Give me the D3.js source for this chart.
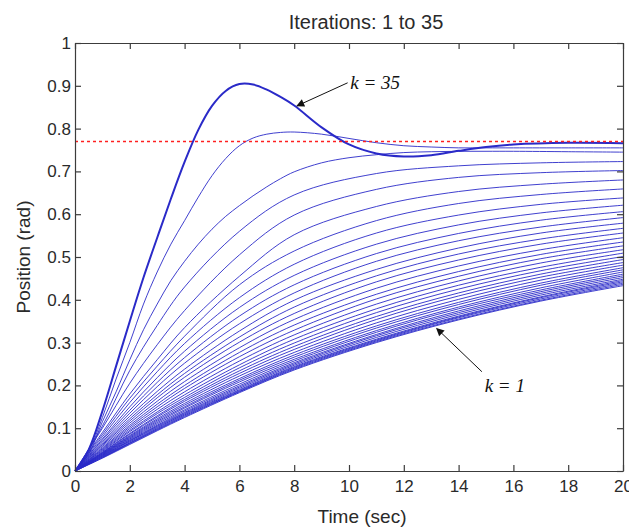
<!DOCTYPE html>
<html>
<head>
<meta charset="utf-8">
<script src="https://cdn.jsdelivr.net/npm/d3@7/dist/d3.min.js"></script>
<style>
  body { margin: 0; background: #fff; }
  .axis text { font-family: "Liberation Sans", Arial, sans-serif; font-size: 17px; fill: #2a2a2a; }
  .axis path, .axis line { stroke: #3c3c3c; stroke-width: 1.2; }
</style>
</head>
<body>
<script>
// tick values / labels
var xTicks = [0, 2, 4, 6, 8, 10, 12, 14, 16, 18, 20];
var yTicks = [0, 0.1, 0.2, 0.3, 0.4, 0.5, 0.6, 0.7, 0.8, 0.9, 1];
var yTickLabels = ["0", "0.1", "0.2", "0.3", "0.4", "0.5", "0.6", "0.7", "0.8", "0.9", "1"];

// sample times (sec)
var timeCoarse = [0, 1, 2, 3, 4, 6, 8, 11, 14, 17, 20];
var timeFine = [0, 0.5, 1, 1.5, 2, 2.5, 3, 3.5, 4, 4.5, 5, 5.5, 6, 6.5, 7, 7.5, 8, 9, 10, 11, 12, 13, 14, 15, 16, 18, 20];

// position (rad), iterations 1..32, on timeCoarse
var positionsLow = [
  [0, .030, .062, .094, .125, .183, .236, .300, .353, .397, .433],
  [0, .031, .064, .096, .127, .185, .238, .302, .355, .399, .436],
  [0, .032, .065, .097, .129, .186, .240, .304, .358, .402, .439],
  [0, .033, .066, .099, .131, .188, .242, .306, .360, .405, .442],
  [0, .034, .068, .101, .133, .190, .244, .308, .362, .407, .445],
  [0, .035, .070, .103, .135, .193, .247, .312, .366, .411, .448],
  [0, .036, .071, .105, .137, .196, .250, .316, .370, .415, .452],
  [0, .037, .073, .107, .140, .199, .253, .319, .374, .419, .456],
  [0, .038, .075, .110, .143, .203, .257, .324, .379, .423, .460],
  [0, .039, .077, .113, .147, .208, .261, .328, .383, .428, .465],
  [0, .040, .079, .116, .150, .212, .266, .334, .389, .434, .470],
  [0, .041, .081, .119, .154, .216, .271, .339, .394, .439, .475],
  [0, .042, .083, .122, .158, .222, .277, .346, .401, .446, .481],
  [0, .043, .086, .126, .163, .228, .284, .354, .409, .453, .487],
  [0, .044, .088, .129, .167, .234, .291, .361, .416, .460, .494],
  [0, .046, .092, .134, .172, .241, .299, .370, .425, .468, .501],
  [0, .048, .095, .138, .178, .248, .308, .379, .434, .476, .509],
  [0, .050, .099, .144, .185, .257, .318, .390, .444, .486, .517],
  [0, .052, .103, .150, .193, .267, .329, .402, .455, .496, .526],
  [0, .054, .107, .156, .200, .277, .341, .413, .466, .506, .535],
  [0, .057, .112, .163, .209, .288, .354, .427, .479, .517, .545],
  [0, .060, .117, .171, .219, .301, .368, .442, .493, .530, .556],
  [0, .062, .122, .178, .228, .313, .383, .456, .507, .542, .567],
  [0, .065, .128, .186, .238, .327, .399, .471, .521, .556, .579],
  [0, .068, .135, .197, .252, .344, .416, .490, .538, .570, .592],
  [0, .072, .142, .207, .265, .362, .435, .508, .555, .586, .606],
  [0, .075, .150, .218, .280, .382, .457, .530, .575, .603, .621],
  [0, .080, .160, .232, .298, .405, .483, .556, .598, .623, .638],
  [0, .085, .170, .245, .315, .435, .514, .585, .625, .646, .659],
  [0, .090, .180, .260, .335, .455, .552, .618, .653, .670, .680],
  [0, .100, .205, .295, .375, .505, .598, .658, .686, .697, .702],
  [0, .105, .235, .340, .430, .560, .645, .695, .713, .720, .723]
];

// iterations 33..35, on timeFine
var positionsHigh = [
  [0, .040, .115, .185, .260, .330, .390, .445, .490, .530, .565, .595, .620, .643, .664, .683, .699, .720, .732, .739, .744, .746, .747, .747, .747, .746, .745],
  [0, .045, .125, .215, .300, .390, .465, .530, .585, .640, .690, .730, .760, .778, .787, .791, .792, .787, .777, .767, .760, .757, .755, .755, .755, .755, .755],
  [0, .050, .140, .245, .350, .452, .545, .636, .722, .797, .853, .888, .904, .903, .891, .874, .854, .803, .763, .742, .735, .738, .748, .757, .763, .767, .766]
];

var reference = 0.77;   // dashed target line

// annotations: label, text anchor, arrow tail, arrow tip (time, position)
var noteLabels = ["k = 35", "k = 1"];
var noteText = [[10.05, 0.893], [14.95, 0.185]];
var noteTail = [[9.95, 0.907], [14.85, 0.232]];
var noteTip = [[8.1, 0.853], [13.2, 0.333]];

var margin = {top: 43, right: 6, bottom: 60, left: 75},
    width = 629 - margin.left - margin.right,
    height = 531 - margin.top - margin.bottom;

var svg = d3.select("body").append("svg")
    .attr("width", 629)
    .attr("height", 531);

svg.append("defs").append("marker")
    .attr("id", "head")
    .attr("viewBox", "0 0 10 10")
    .attr("refX", 9).attr("refY", 5)
    .attr("markerWidth", 11).attr("markerHeight", 8)
    .attr("markerUnits", "userSpaceOnUse")
    .attr("orient", "auto")
  .append("path")
    .attr("d", "M0,0L10,5L0,10z")
    .attr("fill", "#111");

var g = svg.append("g")
    .attr("transform", "translate(" + margin.left + "," + margin.top + ")");

var x = d3.scaleLinear().domain([0, 20]).range([0, width]);
var y = d3.scaleLinear().domain([0, 1]).range([height, 0]);

function make_line(times) {
    return d3.line()
        .x(function(d, i) { return x(times[i]); })
        .y(function(d) { return y(d); })
        .curve(d3.curveCatmullRom.alpha(0.5));
}

var lowLine = make_line(timeCoarse);
var highLine = make_line(timeFine);

g.selectAll(".low")
    .data(positionsLow)
  .enter().append("path")
    .attr("class", "low")
    .attr("d", lowLine)
    .attr("fill", "none")
    .attr("stroke", "#2a2ac8")
    .attr("stroke-width", 0.9);

g.selectAll(".high")
    .data(positionsHigh)
  .enter().append("path")
    .attr("class", "high")
    .attr("d", highLine)
    .attr("fill", "none")
    .attr("stroke", "#2a2ac8")
    .attr("stroke-width", function(d, i) { return i == 2 ? 2 : 0.9; });

g.append("path")
    .attr("d", d3.line()([[x(0), y(reference)], [x(20), y(reference)]]))
    .attr("fill", "none")
    .style("stroke", "#ff2020")
    .style("stroke-width", 1.4)
    .style("stroke-dasharray", "3,3");

// axes box, ticks pointing in
g.append("g")
    .attr("class", "axis")
    .attr("transform", "translate(0," + height + ")")
    .call(d3.axisBottom(x).tickValues(xTicks).tickSizeInner(-6).tickSizeOuter(0).tickPadding(9)
        .tickFormat(function(d) { return d; }));

g.append("g")
    .attr("class", "axis")
    .call(d3.axisLeft(y).tickValues(yTicks).tickSizeInner(-6).tickSizeOuter(0).tickPadding(4)
        .tickFormat(function(d, i) { return yTickLabels[i]; }));

g.append("g")
    .attr("class", "axis")
    .call(d3.axisTop(x).tickValues(xTicks).tickSizeInner(-6).tickSizeOuter(0).tickFormat(""));

g.append("g")
    .attr("class", "axis")
    .attr("transform", "translate(" + width + ",0)")
    .call(d3.axisRight(y).tickValues(yTicks).tickSizeInner(-6).tickSizeOuter(0).tickFormat(""));

// annotations
noteLabels.forEach(function(lbl, i) {
    g.append("line")
        .attr("x1", x(noteTail[i][0])).attr("y1", y(noteTail[i][1]))
        .attr("x2", x(noteTip[i][0])).attr("y2", y(noteTip[i][1]))
        .attr("stroke", "#111")
        .attr("stroke-width", 1)
        .attr("marker-end", "url(#head)");
    g.append("text")
        .attr("x", x(noteText[i][0]))
        .attr("y", y(noteText[i][1]))
        .attr("font-family", "'Liberation Serif', 'Times New Roman', serif")
        .attr("font-style", "italic")
        .attr("font-size", 19)
        .attr("fill", "#111")
        .text(lbl);
});

// titles
svg.append("text")
    .attr("x", 366).attr("y", 29)
    .attr("text-anchor", "middle")
    .attr("font-family", "'Liberation Sans', Arial, sans-serif")
    .attr("font-size", 20)
    .attr("fill", "#2a2a2a")
    .text("Iterations: 1 to 35");

svg.append("text")
    .attr("x", 362).attr("y", 523)
    .attr("text-anchor", "middle")
    .attr("font-family", "'Liberation Sans', Arial, sans-serif")
    .attr("font-size", 19)
    .attr("fill", "#2a2a2a")
    .text("Time (sec)");

svg.append("text")
    .attr("transform", "translate(30," + (margin.top + height / 2) + ") rotate(-90)")
    .attr("text-anchor", "middle")
    .attr("font-family", "'Liberation Sans', Arial, sans-serif")
    .attr("font-size", 19)
    .attr("fill", "#2a2a2a")
    .text("Position (rad)");
</script>
</body>
</html>
